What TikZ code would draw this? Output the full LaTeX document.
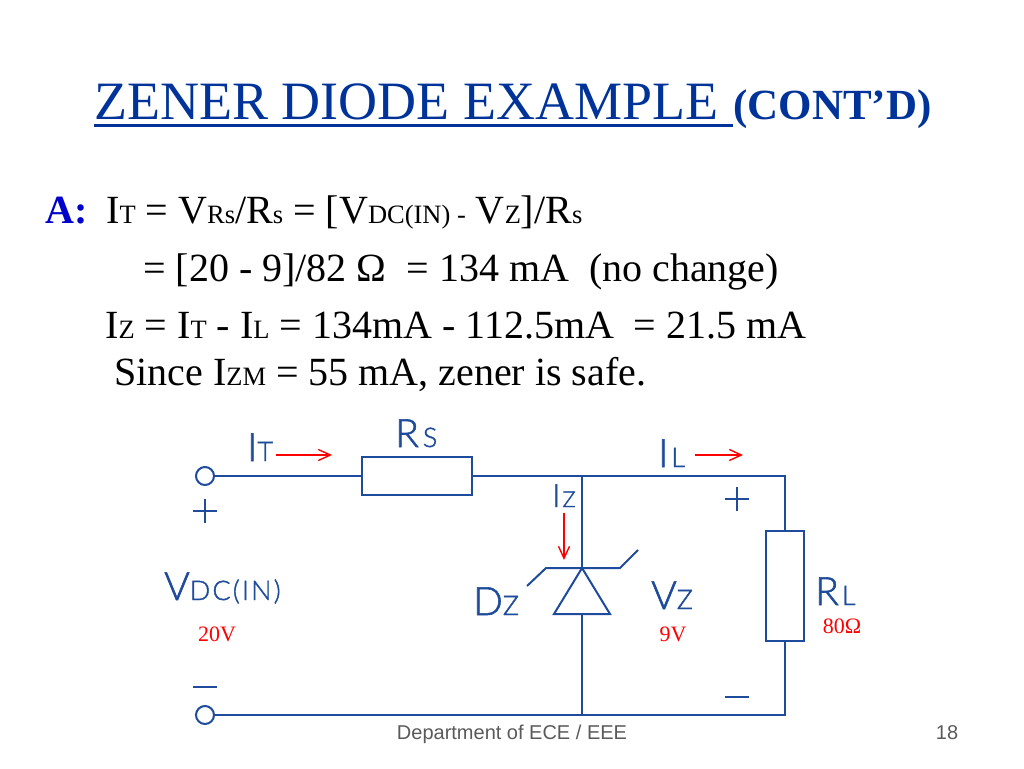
\documentclass[tikz,border=0pt]{standalone}
\usepackage{fontspec}
\setmainfont{Liberation Serif}
\newfontfamily\footfont{Liberation Sans}
\newfontfamily\wirefont[LetterSpace=8,FakeBold=1.5]{Lato Light}
\definecolor{wireblue}{RGB}{30,75,155}
\definecolor{titleblue}{RGB}{0,51,153}
\definecolor{answerblue}{RGB}{0,0,204}
\definecolor{footgray}{RGB}{90,90,90}
\newcommand{\fs}[1]{\fontsize{#1}{#1}\selectfont}
% large letter followed by small letters
\newcommand{\mixed}[2]{{\fs{39}#1\fs{27}#2}}
\newcommand{\sm}[1]{{\fs{26.5}#1}}
\tikzset{
  txt/.style={inner sep=0pt,anchor=base west},
  wire/.style={draw=wireblue,line width=2pt},
  lbl/.style={txt,text=wireblue,font=\wirefont},
  val/.style={inner sep=0pt,anchor=base,text=red,font=\fs{22}},
  term/.style={circle,wire,inner sep=0pt,minimum size=18pt},
  res/.style={rectangle,wire,inner sep=0pt},
  curr/.style={draw=red,line width=1.4pt,-{Straight Barb[length=12pt,width=11pt]}}
}
\usetikzlibrary{arrows.meta}
\begin{document}
\begin{tikzpicture}[x=1pt,y=-1pt]
\useasboundingbox (0,0) rectangle (1024,768);
% heading
\node [txt,text=titleblue,font=\fs{54}] (head) at (94,119) {ZENER DIODE EXAMPLE};
\node [txt,text=titleblue,font=\bfseries\fs{43}] (cont) at (733,119) {(CONT’D)};
\coordinate (ulA) at (94,125.5);
\coordinate (ulB) at (733,125.5);
\draw [titleblue,line width=2.4pt] (ulA) -- (ulB);
% worked answer
\node [txt,text=answerblue,font=\bfseries\fs{40}] (ans) at (45,223) {A:};
\node [txt,font=\fs{40}] (lineA) at (106,223) {I\sm{T} = V\sm{Rs}/R\sm{s} = [V\sm{DC(IN) -} V\sm{Z}]/R\sm{s}};
\node [txt,font=\fs{40}] (lineB) at (143,281) {= [20 - 9]/82 Ω~ = 134 mA~ (no change)};
\node [txt,font=\fs{40}] (lineC) at (105,338) {I\sm{Z} = I\sm{T} - I\sm{L} = 134mA - 112.5mA~ = 21.5 mA};
\node [txt,font=\fs{40}] (lineD) at (114,385) {Since I\sm{ZM} = 55 mA, zener is safe.};
% circuit parts
\node [term] (inP) at (205,476) {};
\node [term] (inN) at (205,715) {};
\node [res,minimum width=110pt,minimum height=38pt] (rs) at (417,476) {};
\node [res,minimum width=38pt,minimum height=110pt] (rl) at (785,586) {};
\coordinate (topJ) at (582,476);
\coordinate (topR) at (785,476);
\coordinate (botJ) at (582,715);
\coordinate (botR) at (785,715);
\coordinate (dzTop) at (582,568);
\coordinate (dzBase) at (582,614);
\coordinate (dzL) at (554,614);
\coordinate (dzR) at (610,614);
\coordinate (barL) at (546,568);
\coordinate (barR) at (620,568);
\coordinate (wingL) at (527,586);
\coordinate (wingR) at (638,550);
\draw [wire] (inP) -- (rs) -- (topJ) -- (topR) -- (rl) -- (botR) -- (botJ) -- (inN);
\draw [wire] (topJ) -- (dzTop);
\draw [wire] (dzBase) -- (botJ);
\draw [wire] (dzTop) -- (dzR) -- (dzL) -- cycle;
\draw [wire] (wingL) -- (barL) -- (barR) -- (wingR);
% polarity marks
\foreach \name/\x/\y in {pa/205/511, pb/737/499} {
  \draw [wire,line width=1.6pt] (\x-12,\y) -- (\x+12,\y) (\x,\y-12) -- (\x,\y+12);
}
\foreach \name/\x/\y in {ma/205/687, mb/737/697} {
  \draw [wire,line width=1.6pt] (\x-12,\y) -- (\x+12,\y);
}
% current arrows
\coordinate (itA) at (276,455);
\coordinate (itB) at (332,455);
\coordinate (ilA) at (695,455);
\coordinate (ilB) at (743,455);
\coordinate (izA) at (564,513);
\coordinate (izB) at (564,560);
\draw [curr] (itA) -- (itB);
\draw [curr] (ilA) -- (ilB);
\draw [curr] (izA) -- (izB);
% circuit labels
\node [lbl] (labIt) at (247,461) {\mixed{I}{T}};
\node [lbl] (labRs) at (395,447) {\mixed{R}{\kern4pt S}};
\node [lbl] (labVdc) at (164,600) {\mixed{V}{DC(IN)}};
\node [lbl] (labDz) at (473,615) {\mixed{D}{Z}};
\node [lbl] (labIl) at (658,467) {\mixed{I}{\kern3pt L}};
\node [lbl] (labIz) at (552,507) {{\fs{32}I\fs{22}\kern2pt Z}};
\node [lbl] (labVz) at (651,609) {\mixed{V}{Z}};
\node [lbl] (labRl) at (815,605) {\mixed{R}{\kern3pt L}};
\node [val] (v20) at (217,641) {20V};
\node [val] (v9) at (673,641) {9V};
\node [val] (r80) at (842,633) {80Ω};
% footer
\node [inner sep=0pt,anchor=base,text=footgray,font=\footfont\fs{20}] (foot) at (512,739) {Department of ECE / EEE};
\node [inner sep=0pt,anchor=base,text=footgray,font=\footfont\fs{20}] (page) at (947,739) {18};
\end{tikzpicture}
\end{document}
